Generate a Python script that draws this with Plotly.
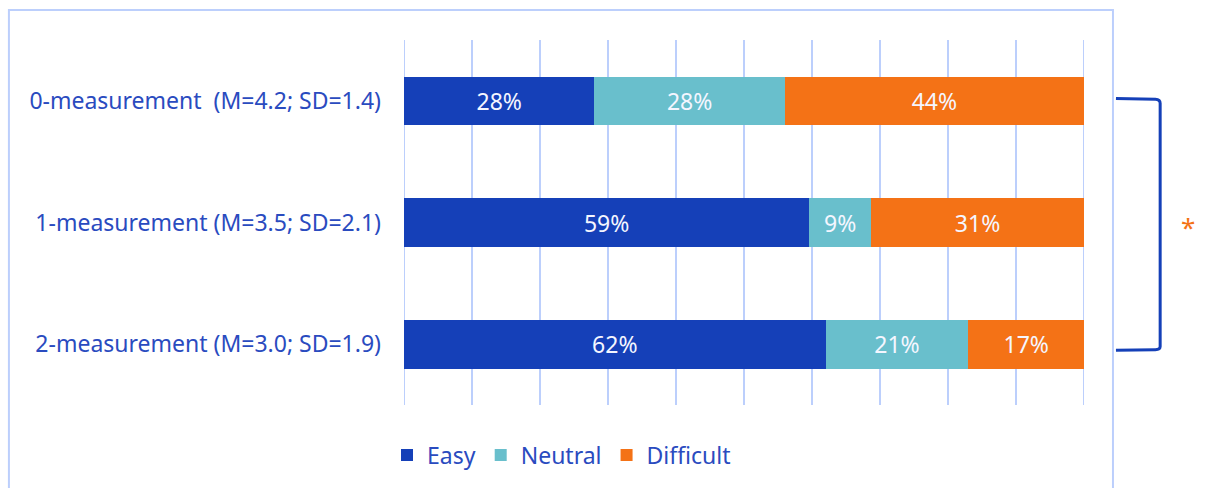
import plotly.graph_objects as go

# Survey results per measurement moment (percent of respondents)
categories = [
    "0-measurement\u00a0\u00a0(M=4.2; SD=1.4)",
    "1-measurement (M=3.5; SD=2.1)",
    "2-measurement (M=3.0; SD=1.9)",
]
easy = [28, 59, 62]
neutral = [28, 9, 21]
difficult = [44, 31, 17]

series = [
    ("Easy", easy, "#1540b8"),
    ("Neutral", neutral, "#69bfcc"),
    ("Difficult", difficult, "#f47216"),
]

TEXT_BLUE = "#2a4bbf"
GRID = "#bccffc"
FONT = "Noto Sans"

fig = go.Figure()
for name, vals, color in series:
    fig.add_trace(go.Bar(
        name=name,
        y=categories,
        x=vals,
        orientation="h",
        marker=dict(color=color, line=dict(width=0)),
        text=[f"{v}%" for v in vals],
        texttemplate="%{text}",
        textposition="inside",
        insidetextanchor="middle",
        textfont=dict(color="#f4f6ff", size=23, family=FONT),
        hoverinfo="skip",
    ))

fig.update_layout(
    width=1206,
    height=488,
    barmode="stack",
    barnorm="percent",
    bargap=0.6,
    plot_bgcolor="white",
    paper_bgcolor="white",
    margin=dict(l=404, r=122, t=40, b=83),
    font=dict(family=FONT, color=TEXT_BLUE, size=23),
    xaxis=dict(
        range=[0, 100],
        dtick=10,
        showgrid=True,
        gridcolor=GRID,
        gridwidth=2,
        showticklabels=False,
        zeroline=False,
        showline=False,
        fixedrange=True,
    ),
    yaxis=dict(
        autorange="reversed",
        showgrid=False,
        ticks="",
        ticklabelstandoff=22,
        tickfont=dict(size=23, color=TEXT_BLUE, family=FONT),
        fixedrange=True,
    ),
    legend=dict(
        orientation="h",
        x=-0.025,
        xanchor="left",
        y=-0.137,
        yanchor="middle",
        font=dict(size=23, color=TEXT_BLUE, family=FONT),
        itemwidth=30,
        traceorder="normal",
    ),
    showlegend=True,
)

# Edge gridlines at 0% and 100%
for xv in (0, 100):
    fig.add_shape(
        type="line", xref="x", yref="paper",
        x0=xv, x1=xv, y0=0, y1=1,
        line=dict(color=GRID, width=2), layer="below",
    )

# Outer frame around the chart area
fig.add_shape(
    type="rect", xref="paper", yref="paper",
    x0=-0.581, x1=1.0426, y0=-0.3, y1=1.082,
    line=dict(color=GRID, width=2), fillcolor="rgba(0,0,0,0)",
    layer="below",
)

# Significance bracket spanning the 0- and 2-measurement rows
fig.add_shape(
    type="path", xref="paper", yref="y",
    path="M 1.047,-0.02 L 1.105,-0.012 Q 1.112,-0.01 1.112,0.02 "
         "L 1.112,2.02 Q 1.112,2.045 1.105,2.045 L 1.047,2.05",
    line=dict(color="#1540b8", width=3),
)
fig.add_annotation(
    xref="paper", yref="y", x=1.166, y=1,
    yshift=-4,
    text="*", showarrow=False,
    font=dict(size=26, color="#f47216", family=FONT),
)

fig.write_html("out.html")
